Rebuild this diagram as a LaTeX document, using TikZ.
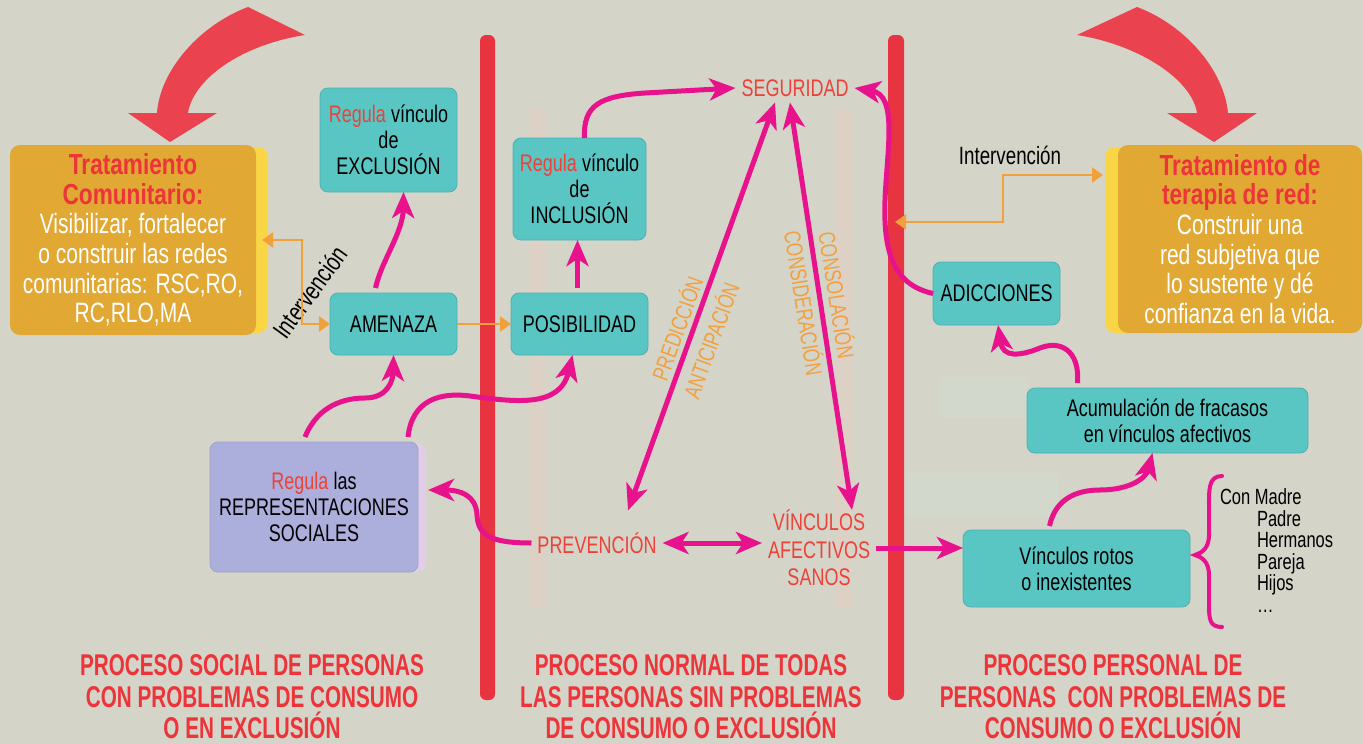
\documentclass[tikz,border=0pt]{standalone}
\usepackage{fontspec}
\setmainfont{Liberation Sans}[FakeStretch=0.75]
\newfontfamily\titlefont{Liberation Sans Bold}[FakeStretch=0.69]
\newfontfamily\headfont{Liberation Sans}[FakeStretch=0.78]
\usetikzlibrary{arrows.meta}
\definecolor{bgc}{RGB}{212,212,200}
\definecolor{tealA}{RGB}{90,198,196}
\definecolor{tealB}{RGB}{72,178,178}
\definecolor{lav}{RGB}{172,175,220}
\definecolor{lavedge}{RGB}{225,205,232}
\definecolor{orA}{RGB}{226,168,52}
\definecolor{yel}{RGB}{250,214,70}
\definecolor{mag}{RGB}{232,18,140}
\definecolor{oline}{RGB}{242,160,60}
\definecolor{lred}{RGB}{236,66,58}
\definecolor{lorange}{RGB}{242,160,62}
\definecolor{tred}{RGB}{236,52,58}
\definecolor{barred}{RGB}{232,52,64}
\definecolor{bigred}{RGB}{234,66,78}
\definecolor{mintc}{RGB}{206,228,212}
\definecolor{pinkc}{RGB}{236,205,195}
\newcommand{\mkhead}[1]{{\headfont\bfseries\color{tred}\fontsize{29}{29.6}\selectfont #1}}
\newcommand{\rgl}{\textcolor{lred}{Regula}}
\begin{document}
\begin{tikzpicture}[x=1pt,y=-1pt,
  every node/.style={inner sep=0pt, outer sep=0pt},
  tbox/.style={fill=tealA, draw=tealB, line width=0.8pt, rounded corners=8pt, align=center, font=\fontsize{24}{26}\selectfont},
  obox/.style={fill=orA, rounded corners=10pt, align=center, text=white, font=\fontsize{28}{29.6}\selectfont},
  lbl/.style={text=lred, font=\fontsize{24}{27.5}\selectfont, align=center, inner sep=6pt},
  rot/.style={text=lorange, font=\fontsize{23}{25}\selectfont},
  marr/.style={draw=mag, line width=5pt, -{Stealth[length=26pt,width=22pt,inset=7pt]}},
  mdbl/.style={draw=mag, line width=5pt, {Stealth[length=26pt,width=22pt,inset=7pt]}-{Stealth[length=26pt,width=22pt,inset=7pt]}},
  oarr/.style={draw=oline, line width=2.5pt, -{Triangle[length=11pt,width=15pt]}},
  odbl/.style={draw=oline, line width=2.5pt, {Triangle[length=11pt,width=15pt]}-{Triangle[length=11pt,width=15pt]}},
  ttl/.style={text=tred, font=\titlefont\fontsize{30}{31.5}\selectfont, align=center}
]
% background
\fill[bgc] (0,0) rectangle (1363,744);
\useasboundingbox (0,0) rectangle (1363,744);
\fill[mintc, opacity=.3] (940,377) rectangle (1027,418);
\fill[mintc, opacity=.3] (906,473) rectangle (1059,517);
\fill[pinkc, opacity=.4] (530,110) rectangle (545,607);
\fill[pinkc, opacity=.4] (836,110) rectangle (851,607);

% red bars
\fill[barred, rounded corners=6pt] (480,35) rectangle (495,700);
\fill[barred, rounded corners=6pt] (888,35) rectangle (904,700);

% big curved arrows
\fill[bigred] (248,7) .. controls (200,25) and (160,70) .. (157,113) -- (128,113) -- (170,142) -- (217,113) -- (188,113) .. controls (193,80) and (240,45) .. (305,35) -- cycle;
\fill[bigred] (1137,7) .. controls (1185,25) and (1224,70) .. (1228,113) -- (1257,113) -- (1214,142) -- (1167,113) -- (1197,113) .. controls (1192,80) and (1140,45) .. (1077,35) -- cycle;

% orange boxes
\fill[yel, rounded corners=10pt] (14,147) rectangle (268,333);
\node[obox, minimum width=246pt, minimum height=190pt] (orL) at (133,240)
  {\mkhead{Tratamiento}\\\mkhead{Comunitario:}\\Visibilizar, fortalecer\\o construir las redes\\comunitarias: RSC,RO,\\RC,RLO,MA};
\fill[yel, rounded corners=10pt] (1105,147) rectangle (1250,333);
\node[obox, minimum width=244pt, minimum height=188pt] (orR) at (1240,239)
  {\mkhead{Tratamiento de}\\\mkhead{terapia de red:}\\Construir una\\red subjetiva que\\lo sustente y dé\\confianza en la vida.};

% teal boxes
\node[tbox, minimum width=137pt, minimum height=104pt] (excl) at (388.5,140) {\rgl{} vínculo\\de\\EXCLUSIÓN};
\node[tbox, minimum width=127pt, minimum height=62pt] (amen) at (393.5,324) {AMENAZA};
\node[tbox, minimum width=133pt, minimum height=102pt] (incl) at (579.5,189) {\rgl{} vínculo\\de\\INCLUSIÓN};
\node[tbox, minimum width=137pt, minimum height=62pt] (posib) at (579.5,324) {POSIBILIDAD};
\node[tbox, minimum width=127pt, minimum height=63pt] (adic) at (996.5,293.5) {ADICCIONES};
\node[tbox, minimum width=281pt, minimum height=65pt] (acum) at (1167.5,420.5) {Acumulación de fracasos\\en vínculos afectivos};
\node[tbox, minimum width=227pt, minimum height=77pt] (rotos) at (1076.5,568.5) {Vínculos rotos\\o inexistentes};
\fill[lavedge, rounded corners=8pt] (300,444) rectangle (426,572);
\node[tbox, fill=lav, draw=lav!92!black, minimum width=208pt, minimum height=130pt] (repr) at (314,507) {\rgl{} las\\REPRESENTACIONES\\SOCIALES};

% text labels
\node[lbl] (seg) at (795,88) {SEGURIDAD};
\node[lbl] (prev) at (597,543) {PREVENCIÓN};
\node[lbl] (vin) at (819,548) {VÍNCULOS\\AFECTIVOS\\SANOS};
\node[rot, rotate=70] (pred) at (676,328) {PREDICCIÓN};
\node[rot, rotate=70] (anti) at (710,340) {ANTICIPACIÓN};
\node[rot, rotate=-81] (consid) at (805,303) {CONSIDERACIÓN};
\node[rot, rotate=-81] (consol) at (838,295) {CONSOLACIÓN};
\node[font=\fontsize{26}{28}\selectfont, rotate=54] (intL) at (310,292) {Intervención};
\node[font=\fontsize{25}{28}\selectfont] (intR) at (1010,155) {Intervención};
\node[font=\fontsize{22}{21.5}\selectfont, align=left, anchor=north west] (lista) at (1220,489)
  {Con Madre\\\hspace*{37pt}Padre\\\hspace*{37pt}Hermanos\\\hspace*{37pt}Pareja\\\hspace*{37pt}Hijos\\\hspace*{37pt}\ldots};
\draw[draw=mag, line width=4pt, line cap=round] (1222,476) .. controls (1208,476) and (1209,490) .. (1209,510) -- (1209,535) .. controls (1209,548) and (1202,553) .. (1195,555) .. controls (1202,557) and (1209,562) .. (1209,575) -- (1209,605) .. controls (1209,620) and (1210,627) .. (1222,627);

% orange connectors
\draw[oarr] (amen.east) -- (posib.west);
\draw[odbl] ([xshift=6pt]orL.east) -- ([xshift=46pt]orL.east) |- (amen.west);
\coordinate (barR) at (895,222);
\draw[odbl] ([xshift=-15pt,yshift=64pt]orR.west) -| ([xshift=108pt]barR) -- (barR);

% magenta connectors
\draw[marr] ([xshift=-18pt,yshift=5pt]amen.north) .. controls (381,262) and (403,232) .. ([xshift=15pt]excl.south);
\draw[marr] ([xshift=5pt]incl.north) .. controls (583,105) and (600,96) .. (645,93) -- (seg.west);
\draw[marr] ([xshift=-2pt,yshift=5pt]posib.north) -- ([xshift=-2pt]incl.south);
\draw[marr] ([xshift=-9pt,yshift=5pt]repr.north) .. controls (318,405) and (345,398) .. (365,398) .. controls (388,398) and (393,380) .. (amen.south);
\draw[marr] ([xshift=94pt,yshift=5pt]repr.north) .. controls (412,400) and (440,392) .. (470,396) .. controls (515,402) and (560,408) .. ([xshift=-7pt]posib.south);
\draw[mdbl] ([xshift=31pt,yshift=16pt]prev.north) -- ([xshift=-20pt]seg.south);
\draw[mdbl] ([xshift=-5pt]seg.south) -- ([xshift=33pt,yshift=-6pt]vin.north);
\draw[mdbl] (prev.east) -- (prev.east -| vin.west);
\draw[marr] (prev.west) .. controls (490,543) and (478,535) .. (477,515) .. controls (476,495) and (460,490) .. ([xshift=10pt,yshift=17pt]repr.east);
\draw[marr] (vin.east) -- (vin.east -| rotos.west);
\draw[marr] ([xshift=-27pt,yshift=4pt]rotos.north) .. controls (1055,500) and (1075,490) .. (1100,490) .. controls (1130,490) and (1146,478) .. ([xshift=-15pt]acum.south);
\draw[marr] ([xshift=-90pt,yshift=5pt]acum.north) .. controls (1080,350) and (1060,340) .. (1040,348) .. controls (1020,356) and (1003,358) .. ([xshift=1.5pt]adic.south);
\draw[marr] (adic.west) .. controls (895,285) and (883,255) .. (885,200) .. controls (887,150) and (898,95) .. (seg.east);

% titles
\node[ttl] (t1) at (252,697) {PROCESO SOCIAL DE PERSONAS\\CON PROBLEMAS DE CONSUMO\\O EN EXCLUSIÓN};
\node[ttl] (t2) at (691,697) {PROCESO NORMAL DE TODAS\\LAS PERSONAS SIN PROBLEMAS\\DE CONSUMO O EXCLUSIÓN};
\node[ttl] (t3) at (1113,697) {PROCESO PERSONAL DE\\PERSONAS\ \ CON PROBLEMAS DE\\CONSUMO O EXCLUSIÓN};
\end{tikzpicture}
\end{document}
